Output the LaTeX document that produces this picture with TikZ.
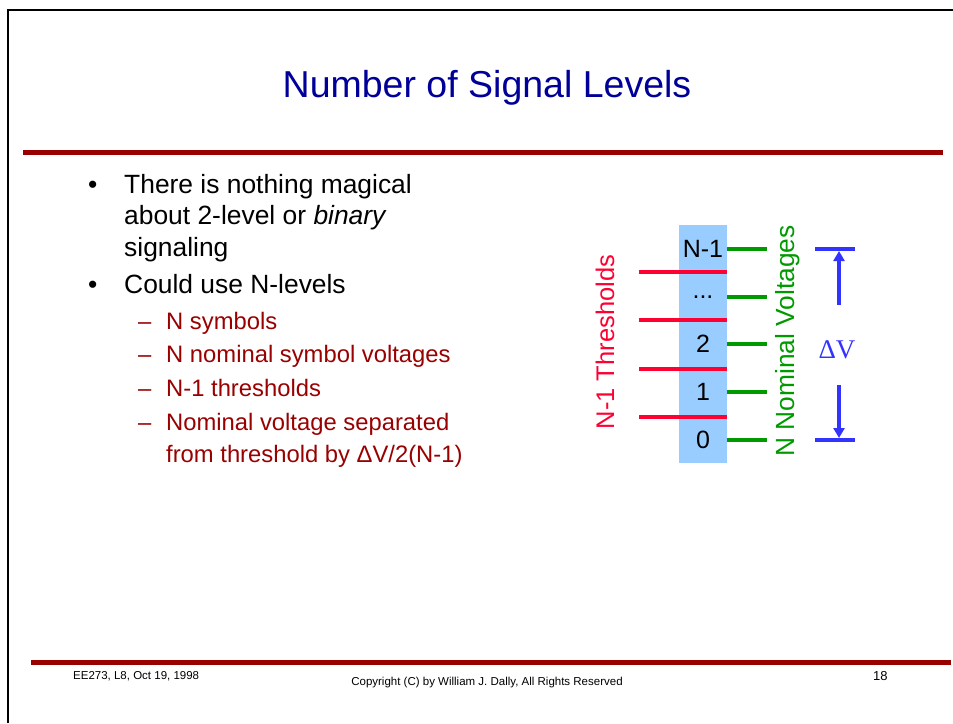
\documentclass[tikz,border=0pt]{standalone}
\usepackage{fontspec}
\setmainfont{Liberation Sans}
\newfontfamily\seriffont{Liberation Serif}
\usetikzlibrary{arrows.meta}
\definecolor{titleblue}{HTML}{000099}
\definecolor{ruled}{HTML}{990000}
\definecolor{colblue}{HTML}{99CCFF}
\definecolor{thred}{HTML}{FF0033}
\definecolor{nomgreen}{HTML}{009900}
\definecolor{dvblue}{HTML}{3333FF}
\newcommand{\fs}[1]{\fontsize{#1}{#1}\selectfont}
\tikzset{
  txt/.style={inner sep=0pt, anchor=base west},
  bigtxt/.style={txt, font=\fs{26.4}},
  subtxt/.style={txt, font=\fs{23.8}, text=ruled},
  foot/.style={inner sep=0pt, font=\fs{11.5}},
  lvl/.style={inner sep=0pt, font=\fs{25}},
  thline/.style={draw=thred, line width=4.3pt},
  nomline/.style={draw=nomgreen, line width=4.3pt},
  dvbar/.style={draw=dvblue, line width=4.3pt},
  dvarrow/.style={draw=dvblue, line width=4pt, -{Triangle[length=10pt,width=11pt]}},
  rule/.style={draw=ruled, line width=5.5pt}
}
\begin{document}
\begin{tikzpicture}[x=1pt,y=-1pt]
\useasboundingbox (0,0) rectangle (953,723);
% frame
\coordinate (fr1) at (8,723);
\coordinate (fr2) at (8,10);
\coordinate (fr3) at (953,10);
\draw[line width=2pt] (fr1) -- (fr2) -- (fr3);
% title
\node[inner sep=0pt, font=\fs{37.5}, text=titleblue] (title) at (487,88) {Number of Signal Levels};
% rules
\coordinate (r1a) at (23,152.5);
\coordinate (r1b) at (943,152.5);
\draw[rule] (r1a) -- (r1b);
\coordinate (r2a) at (31,662.5);
\coordinate (r2b) at (951,662.5);
\draw[rule] (r2a) -- (r2b);
% bullets
\node[bigtxt] (b1) at (88,193) {•};
\node[bigtxt] (t1) at (124,193) {There is nothing magical};
\node[bigtxt] (t2) at (124,224) {about 2-level or \textit{binary}};
\node[bigtxt] (t3) at (124,256) {signaling};
\node[bigtxt] (b2) at (88,293) {•};
\node[bigtxt] (t4) at (124,293) {Could use N-levels};
\node[subtxt] (d1) at (138,329) {–};
\node[subtxt] (s1) at (166,329) {N symbols};
\node[subtxt] (d2) at (138,362) {–};
\node[subtxt] (s2) at (166,362) {N nominal symbol voltages};
\node[subtxt] (d3) at (138,396) {–};
\node[subtxt] (s3) at (166,396) {N-1 thresholds};
\node[subtxt] (d4) at (138,430) {–};
\node[subtxt] (s4) at (166,430) {Nominal voltage separated};
\node[subtxt] (s5) at (166,462) {from threshold by ΔV/2(N-1)};
% column
\node[fill=colblue, inner sep=0pt, minimum width=48pt, minimum height=238pt] (col) at (703,344) {};
% thresholds
\foreach \y/\n in {272/a,320/b,369/c,417/d}{
  \coordinate (th\n1) at (639,\y);
  \coordinate (th\n2) at (727,\y);
  \draw[thline] (th\n1) -- (th\n2);
}
% nominal voltages
\foreach \y/\n in {249/a,297/b,344/c,392/d,440/e}{
  \coordinate (nv\n1) at (727,\y);
  \coordinate (nv\n2) at (767,\y);
  \draw[nomline] (nv\n1) -- (nv\n2);
}
% level labels
\node[lvl] (l4) at (703,249) {N-1};
\node[lvl] (l3) at (703,297) {...};
\node[lvl] (l2) at (703,344) {2};
\node[lvl] (l1) at (703,392) {1};
\node[lvl] (l0) at (703,440) {0};
% rotated labels
\node[inner sep=0pt, rotate=90, font=\fs{25.5}, text=thred] (thlab) at (605,342) {N-1 Thresholds};
\node[inner sep=0pt, rotate=90, font=\fs{26.3}, text=nomgreen] (nvlab) at (788,341) {N Nominal Voltages};
% delta V
\coordinate (tb1) at (815,249);
\coordinate (tb2) at (855,249);
\coordinate (bb1) at (815,440);
\coordinate (bb2) at (855,440);
\draw[dvbar] (tb1) -- (tb2);
\draw[dvbar] (bb1) -- (bb2);
\node[inner sep=0pt, font=\seriffont\fs{27}, text=dvblue] (dv) at (837,350) {ΔV};
\coordinate (at1) at (839,305);
\coordinate (at2) at (839,251);
\coordinate (ab1) at (839,385);
\coordinate (ab2) at (839,438);
\draw[dvarrow] (at1) -- (at2);
\draw[dvarrow] (ab1) -- (ab2);
% footer
\node[foot, anchor=west] (f1) at (73,676) {EE273, L8, Oct 19, 1998};
\node[foot] (f2) at (487,683) {Copyright (C) by William J. Dally, All Rights Reserved};
\node[foot, anchor=west, font=\fs{13}] (f3) at (873,676) {18};
\end{tikzpicture}
\end{document}
